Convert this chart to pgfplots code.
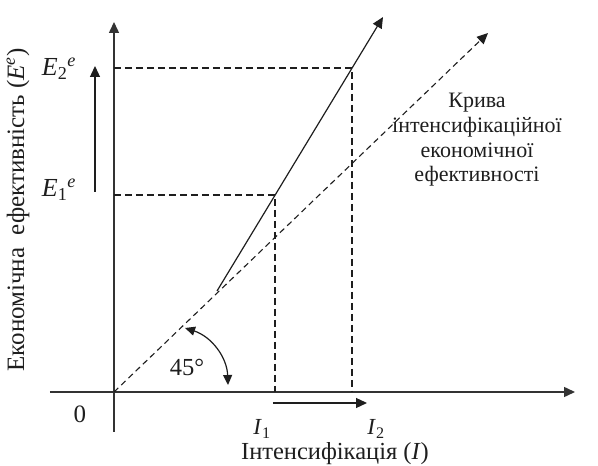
\documentclass[border=0pt]{standalone}
\usepackage{pgfplots}
\pgfplotsset{compat=1.18}
\usepackage{fontspec}
\setmainfont{Liberation Serif}
\usetikzlibrary{arrows.meta}
\definecolor{ink}{RGB}{30,30,30}
\begin{document}
\begin{tikzpicture}[text=ink]
\begin{axis}[
  x=1pt, y=1pt, scale only axis,
  xmin=-64, xmax=461, ymin=-40, ymax=370,
  axis lines*=middle,
  axis line style={line width=1.5pt, black!80, -{Triangle[length=11pt,width=10pt]}},
  xtick=\empty, ytick=\empty,
  clip=false, no markers,
]
\path (axis cs:-114,-74) rectangle (axis cs:484,392);
% 45 degree curve
\addplot[ink, line width=1.1pt, dash pattern=on 6pt off 4pt, -{Triangle[length=11pt,width=10pt]}]
  coordinates {(0,0) (374,359)};
% intensification line
\addplot[ink, line width=1.2pt, -{Triangle[length=11pt,width=10pt]}]
  coordinates {(103,101) (269,375)};
% guide lines
\addplot[ink, line width=1.1pt, dash pattern=on 7pt off 4pt]
  coordinates {(0,197) (161,197) (161,0)};
\addplot[ink, line width=1.1pt, dash pattern=on 7pt off 4pt]
  coordinates {(0,324) (238,324) (238,0)};
% growth arrows
\addplot[ink, line width=1.3pt, -{Triangle[length=11pt,width=10pt]}]
  coordinates {(-19,200) (-19,326)};
\addplot[ink, line width=1.3pt, -{Triangle[length=11pt,width=10pt]}]
  coordinates {(159,-11) (253,-11)};
% angle arc
\draw[ink, line width=1.2pt, {Triangle[length=10pt,width=9pt]}-{Triangle[length=10pt,width=9pt]}]
  (axis cs:71,64) to[bend left=35] (axis cs:114,7);
% labels
\node[font=\fontsize{25}{28}\selectfont] at (axis cs:-34,-22) {0};
\node[font=\fontsize{24.5}{28}\selectfont] at (axis cs:73,25) {45°};
\node[font=\fontsize{23}{26}\selectfont, inner sep=0pt] at (axis cs:148,-37) {\textit{I}\textsubscript{1}};
\node[font=\fontsize{23}{26}\selectfont, inner sep=0pt] at (axis cs:262,-37) {\textit{I}\textsubscript{2}};
\node[font=\fontsize{24.5}{28}\selectfont, anchor=base, inner sep=0pt] at (axis cs:221,-68) {Інтенсифікація (\textit{I})};
\node[font=\fontsize{25}{28}\selectfont, rotate=90] at (axis cs:-96,182) {Економічна\ \ ефективність (\textit{E}\textsuperscript{\textit{e}})};
\node[font=\fontsize{26}{28}\selectfont] at (axis cs:-55,323) {\textit{E}\textsubscript{2}\textsuperscript{\textit{e}}};
\node[font=\fontsize{26}{28}\selectfont] at (axis cs:-55,202) {\textit{E}\textsubscript{1}\textsuperscript{\textit{e}}};
\node[font=\fontsize{22}{24.7}\selectfont, align=center] at (axis cs:363,252) {Крива\\інтенсифікаційної\\економічної\\ефективності};
\end{axis}
\end{tikzpicture}
\end{document}
